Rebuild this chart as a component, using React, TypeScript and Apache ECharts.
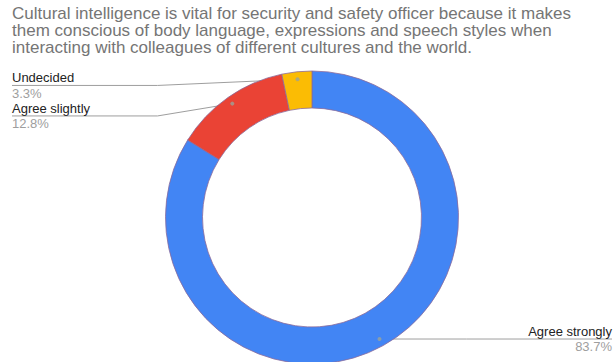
import React, { useEffect, useRef } from "react";
import * as echarts from "echarts";

const TITLE_LINES = [
  "Cultural intelligence is vital for security and safety officer because it makes",
  "them conscious of body language, expressions and speech styles when",
  "interacting with colleagues of different cultures and the world.",
];
const CATEGORIES = ["Agree strongly", "Agree slightly", "Undecided"];
const PERCENTS = [83.7, 12.8, 3.3];
const COLORS = ["#4285F4", "#EA4335", "#FBBC04"];

const W = 615;
const H = 362;
const CX = 312;
const CY = 217.5;
const R_IN = 109.5;
const R_OUT = 146.5;
const DOT_R = 139;
const VIEW_LEFT = 12;
const VIEW_TOP = 70.2;
const VIEW_W = 600;
const FONT = "'Liberation Sans', Arial, Helvetica, sans-serif";

export default function App() {
  const ref = useRef<HTMLDivElement>(null);
  useEffect(() => {
    document.body.style.margin = "0";
    const chart = echarts.init(ref.current as HTMLDivElement, null, { renderer: "svg" });
    const total = PERCENTS.reduce((a, b) => a + b, 0);
    let acc = 0;
    const mids = PERCENTS.map((v) => {
      const m = acc + v / 2;
      acc += v;
      return m;
    });
    chart.setOption({
      animation: false,
      title: {
        text: TITLE_LINES.join("\n"),
        left: 12,
        top: 5,
        padding: 0,
        textStyle: {
          fontFamily: FONT,
          fontSize: 17,
          fontWeight: "normal",
          color: "#757575",
          lineHeight: 17,
        },
      },
      polar: { center: [CX, CY], radius: [0, R_OUT] },
      angleAxis: {
        type: "value",
        min: 0,
        max: total,
        startAngle: 90,
        clockwise: true,
        show: false,
      },
      radiusAxis: { type: "value", min: 0, max: R_OUT, show: false },
      series: [
        {
          type: "pie",
          left: VIEW_LEFT,
          top: VIEW_TOP,
          width: VIEW_W,
          height: H - VIEW_TOP,
          center: [CX - VIEW_LEFT, CY - VIEW_TOP],
          radius: [R_IN, R_OUT],
          startAngle: 90,
          clockwise: true,
          avoidLabelOverlap: true,
          data: CATEGORIES.map((name, i) => ({
            name,
            value: PERCENTS[i],
            itemStyle: { color: COLORS[i] },
          })),
          itemStyle: { borderColor: "#8b6b9b", borderWidth: 0.8 },
          emphasis: { disabled: true },
          label: {
            position: "outside",
            alignTo: "edge",
            edgeDistance: 0,
            formatter: (p: any) => `{n|${p.name}}\n{p|${p.value}%}`,
            rich: {
              n: { fontSize: 13, color: "#222222", fontFamily: FONT, lineHeight: 15.5 },
              p: { fontSize: 13, color: "#9e9e9e", fontFamily: FONT, lineHeight: 15.5 },
            },
          },
          labelLine: {
            show: true,
            length: DOT_R - R_OUT,
            length2: 10,
            lineStyle: { color: "#9e9e9e", width: 1 },
          },
          labelLayout: (params: any) => {
            const pts = params.labelLinePoints;
            const r = params.labelRect;
            if (!pts || !r) return {};
            const isLeft = r.x + r.width / 2 < W / 2;
            const x0 = pts[0][0];
            const y0 = pts[0][1];
            const k = DOT_R / R_OUT;
            const sx = CX + (x0 - CX) * k;
            const sy = CY + (y0 - CY) * k;
            const ly = r.y + r.height / 2;
            const ex = isLeft ? CX - R_OUT - 8 : CX + R_OUT + 8;
            const endX = isLeft ? r.x : r.x + r.width;
            return {
              labelLinePoints: [
                [sx, sy],
                [ex, ly],
                [endX, ly],
              ],
            };
          },
        },
        {
          type: "scatter",
          coordinateSystem: "polar",
          data: mids.map((m) => [DOT_R, m]),
          symbolSize: 4,
          itemStyle: { color: "#9aa39a" },
          silent: true,
          z: 5,
        },
      ],
    });
    return () => chart.dispose();
  }, []);
  return <div ref={ref} style={{ width: W, height: H }} />;
}
